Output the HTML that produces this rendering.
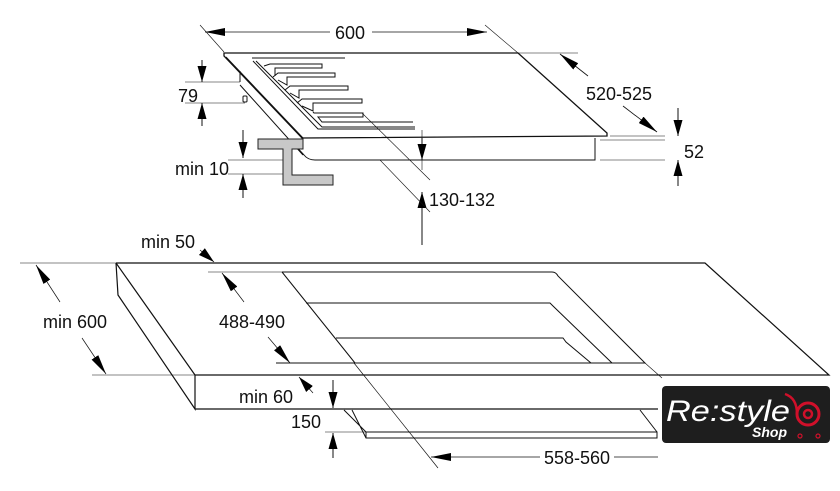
<!DOCTYPE html>
<html><head><meta charset="utf-8"><style>
html,body{margin:0;padding:0;background:#fff;width:840px;height:491px;overflow:hidden}
svg{display:block}
text{font-family:"Liberation Sans",sans-serif;font-size:18px;fill:#111}
</style></head><body>
<svg width="840" height="491" viewBox="0 0 840 491">
<defs>
<marker id="a" viewBox="0 0 10 10" refX="10" refY="5" markerWidth="16" markerHeight="9" orient="auto-start-reverse" markerUnits="userSpaceOnUse" preserveAspectRatio="none"><path d="M0,0 L10,5 L0,10 Z" fill="#000"/></marker>
<marker id="b" viewBox="0 0 10 10" refX="10" refY="5" markerWidth="20" markerHeight="8" orient="auto-start-reverse" markerUnits="userSpaceOnUse" preserveAspectRatio="none"><path d="M0,0 L10,5 L0,10 Z" fill="#000"/></marker>
</defs>
<g fill="none" stroke="#111" stroke-width="1">
<path d="M224,53 L518,53 L607,133 L607,136 L302,138 L224,56 Z" stroke-width="1.3"/>
<path d="M226,57 L303,138"/>
<path d="M595,138 L595,160 L315,160 Q308,160 304,155 L292,142"/>
<path d="M240,71 L240,82 M240,85 L303,155"/>
<rect x="243" y="96" width="4" height="6" rx="1"/>
<path d="M252,58 L345,58 M253,61 L318,129 L415,129 M256,61 L322,127 L415,127"/>
<path d="M264,66 L270,64 L322,64 L322,68 L275,68 L275,76"/>
<path d="M273,77 L278,73 L335,73 L335,77 L287,77 L287,85 L278,80"/>
<path d="M285,90 L290,86 L348,86 L348,90 L299,90 L299,98 L290,93"/>
<path d="M297,103 L302,99 L362,99 L362,103 L313,103 L313,111 L302,106"/>
<path d="M313,112 L314,113 L363,113 L363,117 L318,117 L322,122 L413,122"/>
<line x1="200" y1="25" x2="224" y2="52" stroke-width="0.6"/>
<line x1="485" y1="25" x2="518" y2="53" stroke-width="0.6"/>
<line x1="205" y1="32" x2="330" y2="32" marker-start="url(#b)" stroke-width="0.8"/>
<line x1="372" y1="32" x2="487" y2="32" marker-end="url(#b)" stroke-width="0.8"/>
<line x1="518" y1="53" x2="578" y2="53" stroke-width="0.6"/>
<line x1="560" y1="54" x2="588" y2="76" marker-start="url(#b)" stroke-width="0.8"/>
<line x1="623" y1="106" x2="657" y2="132" marker-end="url(#b)" stroke-width="0.8"/>
<line x1="610" y1="136" x2="665" y2="136" stroke-width="0.6"/>
<line x1="600" y1="140" x2="665" y2="140" stroke-width="0.6"/>
<line x1="600" y1="160" x2="665" y2="160" stroke-width="0.6"/>
<line x1="678" y1="108" x2="678" y2="136" marker-end="url(#a)"/>
<line x1="678" y1="186" x2="678" y2="160" marker-end="url(#a)"/>
<line x1="185" y1="82" x2="240" y2="82" stroke-width="0.6"/>
<line x1="185" y1="103" x2="245" y2="103" stroke-width="0.6"/>
<line x1="202" y1="60" x2="202" y2="82" marker-end="url(#a)"/>
<line x1="202" y1="126" x2="202" y2="103" marker-end="url(#a)"/>
<line x1="228" y1="160" x2="290" y2="160" stroke-width="0.6"/>
<line x1="228" y1="174" x2="285" y2="174" stroke-width="0.6"/>
<line x1="243" y1="130" x2="243" y2="158" marker-end="url(#a)"/>
<line x1="243" y1="198" x2="243" y2="174" marker-end="url(#a)"/>
<line x1="422" y1="130" x2="422" y2="170" stroke-width="0.6"/>
<line x1="422" y1="138" x2="422" y2="160" marker-end="url(#a)"/>
<line x1="422" y1="245" x2="422" y2="192" marker-end="url(#a)"/>
<line x1="362" y1="113" x2="430" y2="180" stroke-width="0.6"/>
<line x1="380" y1="160" x2="430" y2="212" stroke-width="0.6"/>
</g>
<path d="M258,139 L303,139 L303,149 L292,149 L292,175 L333,175 L333,185 L283,185 L283,149 L258,149 Z" fill="#c8c8c8" stroke="#222" stroke-width="1"/>
<text x="350" y="39" text-anchor="middle">600</text>
<text x="619" y="100" text-anchor="middle">520-525</text>
<text x="694" y="158" text-anchor="middle">52</text>
<text x="198" y="102" text-anchor="end">79</text>
<text x="229" y="175" text-anchor="end">min 10</text>
<text x="462" y="206" text-anchor="middle">130-132</text>

<g fill="none" stroke="#111" stroke-width="1">
<path d="M116,263 L705,263 L829,375 L195,375 L116,263 M116,263 L118,295 L195,409 L195,375 M195,409 L658,409" stroke-width="1.2"/>
<path d="M282,272 L552,272 Q556,272 558,276 L645,363 L276,363 M282,272 L355,363"/>
<path d="M306,303 L550,303 L553,306 L612,363"/>
<path d="M336,338 L563,338 L566,342 L591,363"/>
<line x1="645" y1="363" x2="662" y2="378" stroke-width="0.6"/>
<path d="M344,410 L366,432 L657,432 L657,438 L366,438 L352,410 M366,432 L366,438 M640,410 L657,432"/>
<line x1="354" y1="363" x2="438" y2="468" stroke-width="0.7"/>
<line x1="20" y1="263" x2="116" y2="263" stroke-width="0.6"/>
<line x1="92" y1="375" x2="195" y2="375" stroke-width="0.6"/>
<line x1="60" y1="302" x2="36" y2="265" marker-end="url(#b)" stroke-width="0.7"/>
<line x1="82" y1="338" x2="106" y2="374" marker-end="url(#b)" stroke-width="0.7"/>
<line x1="200" y1="250" x2="214" y2="262" marker-end="url(#a)" stroke-width="0.7"/>
<line x1="208" y1="272" x2="282" y2="272" stroke-width="0.6"/>
<line x1="276" y1="363" x2="355" y2="363" stroke-width="0.6"/>
<line x1="244" y1="302" x2="222" y2="273" marker-end="url(#b)" stroke-width="0.7"/>
<line x1="268" y1="337" x2="290" y2="363" marker-end="url(#b)" stroke-width="0.7"/>
<line x1="313" y1="393" x2="299" y2="377" marker-end="url(#a)" stroke-width="0.7"/>
<line x1="333" y1="380" x2="333" y2="408" marker-end="url(#a)"/>
<line x1="325" y1="432" x2="366" y2="432" stroke-width="0.6"/>
<line x1="333" y1="458" x2="333" y2="433" marker-end="url(#a)"/>
<line x1="540" y1="457" x2="431" y2="457" marker-end="url(#b)" stroke-width="0.8"/>
<line x1="614" y1="457" x2="658" y2="457" stroke-width="0.8"/>
</g>
<text x="168" y="248" text-anchor="middle">min 50</text>
<text x="75" y="328" text-anchor="middle">min 600</text>
<text x="252" y="328" text-anchor="middle">488-490</text>
<text x="266" y="403" text-anchor="middle">min 60</text>
<text x="306" y="428" text-anchor="middle">150</text>
<text x="577" y="464" text-anchor="middle">558-560</text>

<rect x="662" y="386" width="168" height="57" rx="4" fill="#1e1e1e"/>
<text x="666" y="421" textLength="124" lengthAdjust="spacingAndGlyphs" style="font-size:30px;font-style:italic;fill:#fff">Re:style</text>
<text x="752" y="437" style="font-size:14px;font-style:italic;font-weight:bold;fill:#fff">Shop</text>
<circle cx="808" cy="414" r="11" fill="none" stroke="#d0102a" stroke-width="3"/>
<circle cx="808" cy="414" r="4" fill="none" stroke="#d0102a" stroke-width="2.5"/>
<path d="M785,394 Q797,398 797,414" fill="none" stroke="#d0102a" stroke-width="2.5"/>
<circle cx="800" cy="436" r="2" fill="none" stroke="#d0102a" stroke-width="1.2"/>
<circle cx="818" cy="436" r="2" fill="none" stroke="#d0102a" stroke-width="1.2"/>
</svg>
</body></html>
